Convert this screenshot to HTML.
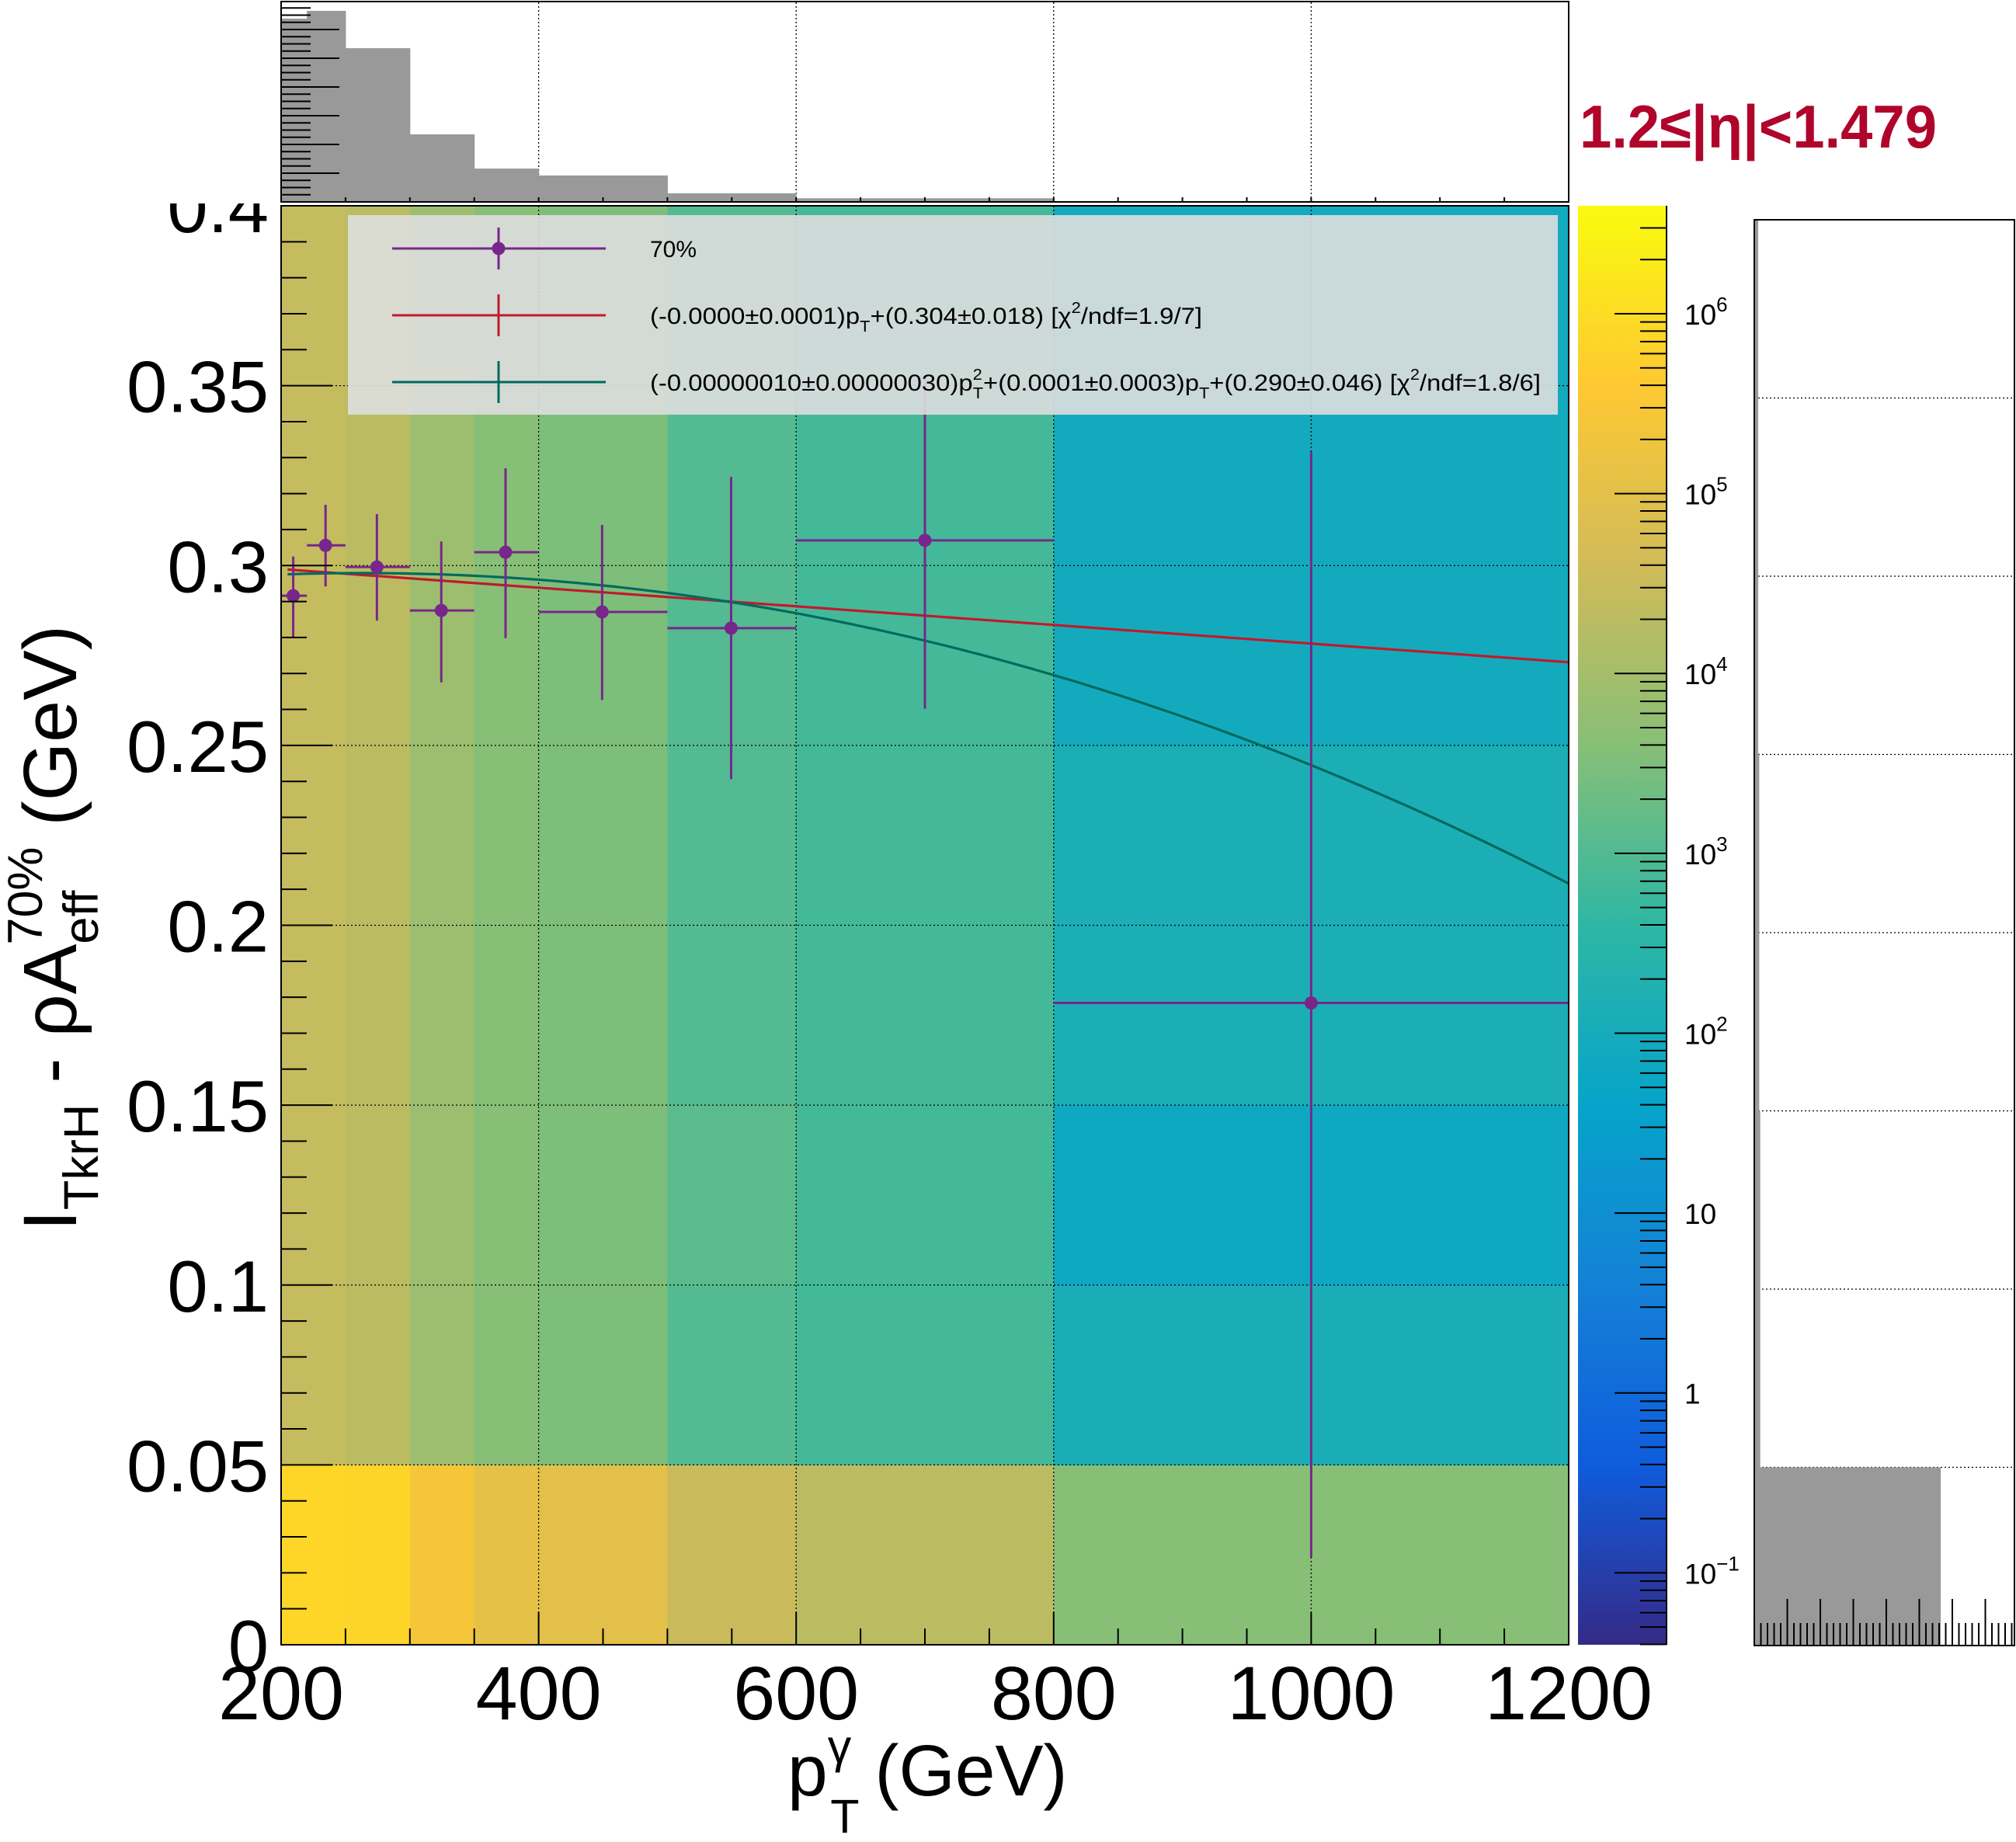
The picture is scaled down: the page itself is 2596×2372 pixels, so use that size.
<!DOCTYPE html>
<html><head><meta charset="utf-8">
<style>
html,body{margin:0;padding:0;background:#fff;}
svg{display:block;font-family:"Liberation Sans",Arial,sans-serif;}
</style></head>
<body>
<svg id="chart" width="2596" height="2372" viewBox="0 0 2596 2372" xmlns="http://www.w3.org/2000/svg">
<defs>
<linearGradient id="birdGrad" x1="0" y1="1" x2="0" y2="0">
<stop offset="0" stop-color="rgb(53,42,135)"/>
<stop offset="0.125" stop-color="rgb(15,92,221)"/>
<stop offset="0.25" stop-color="rgb(20,129,214)"/>
<stop offset="0.375" stop-color="rgb(6,164,202)"/>
<stop offset="0.5" stop-color="rgb(46,183,164)"/>
<stop offset="0.625" stop-color="rgb(135,191,119)"/>
<stop offset="0.75" stop-color="rgb(209,187,89)"/>
<stop offset="0.875" stop-color="rgb(254,200,50)"/>
<stop offset="1" stop-color="rgb(249,251,14)"/>
</linearGradient>
<clipPath id="mainClip"><rect x="0" y="262" width="2596" height="2110"/></clipPath>
</defs>
<g id="layer"></g>
</svg>
<script>
// ---- data ----
const xBinEdges = [200,250,300,350,400,500,600,800,1200];
const yBinEdges = [0,0.05,0.1,0.15,0.2,0.25,0.3,0.35,0.4];
// log10(counts) per column (x bin), rows from y=0 upward
const cellLog0 = [5.87,4.42,4.42,4.42,4.42,4.42,4.42,4.42];
const cellLog1 = [5.85,4.3,4.3,4.3,4.3,4.3,4.3,4.3];
const cellLog2 = [5.4,3.9,3.9,3.9,3.9,3.9,3.9,3.9];
const cellLog3 = [5.05,3.6,3.6,3.6,3.6,3.6,3.6,3.6];
const cellLog4 = [5.0,3.5,3.5,3.5,3.5,3.5,3.5,3.5];
const cellLog5 = [4.5,3.03,3.12,3.03,3.03,3.03,3.03,3.03];
const cellLog6 = [4.3,2.85,2.85,2.85,2.85,2.85,2.85,2.85];
const cellLog7 = [3.6,2.1,1.8,2.15,2.15,1.95,1.95,1.95];
const cellLogs = [cellLog0,cellLog1,cellLog2,cellLog3,cellLog4,cellLog5,cellLog6,cellLog7];

const ptX = [209.4,234.5,274.4,324.4,374.3,449.3,549.5,700,1000];
const ptY = [0.2916,0.3056,0.2996,0.2875,0.3037,0.2871,0.2826,0.307,0.1784];
const ptYLo = [0.2802,0.2942,0.2847,0.2675,0.2798,0.2626,0.2406,0.2602,0.0243];
const ptYHi = [0.3025,0.3169,0.3143,0.3067,0.327,0.3113,0.3246,0.352,0.3317];
const ptXLo = [200,220,250,300,350,400,500,600,800];
const ptXHi = [220,250,300,350,400,500,600,800,1200];

const linP = [0.3042,-0.0000259];
const quadP = [0.2911,0.0000517,-0.0000000983];
const fitRange = [205,1200];

const topHistEdges = [200,220,250,300,350,400,500,600,800,1200];
const topHistVals = [6.38,6.65,5.35,2.35,1.16,0.92,0.30,0.127,0.03];
const sideHistVals = [5.65,0.18,0.18,0.15,0.15,0.12,0.12,0.12];

const yTickLabels = ["0","0.05","0.1","0.15","0.2","0.25","0.3","0.35","0.4"];
const xTickLabels = ["200","400","600","800","1000","1200"];
const paletteDecades = [-1,0,1,2,3,4,5,6];
const zRange = [-1.4,6.6];

// ---- geometry ----
const NS="http://www.w3.org/2000/svg";
const layer=document.getElementById('layer');
const PL=362, PR=2020, PT=265, PB=2118;
const X0=200, X1=1200, Y0=0, Y1=0.4;
function sx(v){return PL+(v-X0)/(X1-X0)*(PR-PL);}
function sy(v){return PB-(v-Y0)/(Y1-Y0)*(PB-PT);}
function mk(tag,attrs,parent){const e=document.createElementNS(NS,tag);for(const k in attrs)e.setAttribute(k,attrs[k]);(parent||layer).appendChild(e);return e;}
const birdStops=[0,.125,.25,.375,.5,.625,.75,.875,1];
const birdR=[0.2082,0.0592,0.0780,0.0232,0.1802,0.5301,0.8186,0.9956,0.9764];
const birdG=[0.1664,0.3599,0.5041,0.6419,0.7178,0.7492,0.7328,0.7862,0.9832];
const birdB=[0.5293,0.8684,0.8385,0.7914,0.6425,0.4662,0.3499,0.1968,0.0539];
function bird(t){t=Math.max(0,Math.min(1,t));let i=0;while(i<7&&t>birdStops[i+1])i++;const f=(t-birdStops[i])/(birdStops[i+1]-birdStops[i]);
const c=a=>Math.round(255*(a[i]+(a[i+1]-a[i])*f));return `rgb(${c(birdR)},${c(birdG)},${c(birdB)})`;}

// ---- heatmap ----
const gHeat=mk('g',{});


for(let c=0;c<cellLogs.length;c++){for(let r=0;r<cellLogs[c].length;r++){
 const x=sx(xBinEdges[c]),x2=sx(xBinEdges[c+1]),y=sy(yBinEdges[r+1]),y2=sy(yBinEdges[r]);
 const rc=mk('rect',{x:x,y:y,width:x2-x+0.5,height:y2-y+0.5,fill:bird((cellLogs[c][r]-zRange[0])/(zRange[1]-zRange[0]))},gHeat);
 
 
}}
// grid
const gGrid=mk('g',{stroke:'#000','stroke-width':1.3,'stroke-dasharray':'2,3'});


[400,600,800,1000].forEach(v=>mk('line',{x1:sx(v),x2:sx(v),y1:PT,y2:PB},gGrid));
for(let i=1;i<8;i++){const v=i*0.05;mk('line',{x1:PL,x2:PR,y1:sy(v),y2:sy(v)},gGrid);}

// fits
function curvePath(f){let d='';for(let i=0;i<=200;i++){const x=fitRange[0]+(fitRange[1]-fitRange[0])*i/200;d+=(i?'L':'M')+sx(x).toFixed(1)+','+sy(f(x)).toFixed(1);}return d;}
const pl=mk('path',{d:curvePath(x=>linP[0]+linP[1]*x),fill:'none',stroke:'#be1b2e','stroke-width':3.2});


const pq=mk('path',{d:curvePath(x=>quadP[0]+quadP[1]*x+quadP[2]*x*x),fill:'none',stroke:'#006a5e','stroke-width':3.2});



// points
const purple='#77278b';
const gPts=mk('g',{stroke:purple,'stroke-width':3});


for(let i=0;i<ptX.length;i++){
 const g=mk('g',{},gPts);
 
 
 mk('line',{x1:sx(ptX[i]),x2:sx(ptX[i]),y1:sy(ptYLo[i]),y2:sy(ptYHi[i])},g);
 mk('line',{x1:sx(ptXLo[i]),x2:sx(ptXHi[i]),y1:sy(ptY[i]),y2:sy(ptY[i])},g);
 mk('circle',{cx:sx(ptX[i]),cy:sy(ptY[i]),r:8.5,fill:purple,stroke:'none'},g);
}

// legend
const gLeg=mk('g',{});


mk('rect',{x:448,y:277,width:1558,height:257,fill:'rgba(222,222,222,0.9)'},gLeg);
const legRows=[320,406,492], legCols=[purple,'#be1b2e','#006a5e'];
for(let i=0;i<3;i++){
 const e=mk('g',{stroke:legCols[i],'stroke-width':3},gLeg);
 
 
 mk('line',{x1:505,x2:780,y1:legRows[i],y2:legRows[i]},e);
 mk('line',{x1:642,x2:642,y1:legRows[i]-27,y2:legRows[i]+27},e);
 if(i==0)mk('circle',{cx:642,cy:legRows[i],r:8.5,fill:purple,stroke:'none'},e);
}
const lt1=mk('text',{x:837,y:331,'font-size':30},gLeg);lt1.textContent='70%';


const lt2=mk('text',{x:837,y:417,'font-size':30,textLength:711,lengthAdjust:'spacingAndGlyphs'},gLeg);
lt2.innerHTML='(-0.0000±0.0001)p<tspan font-size="20" dy="10">T</tspan><tspan dy="-10">+(0.304±0.018) [χ</tspan><tspan font-size="20" dy="-14">2</tspan><tspan dy="14">/ndf=1.9/7]</tspan>';


const lt3=mk('text',{x:837,y:503,'font-size':30,textLength:1147,lengthAdjust:'spacingAndGlyphs'},gLeg);
lt3.innerHTML='(-0.00000010±0.00000030)p<tspan font-size="20" dy="-14">2</tspan><tspan font-size="20" dx="-11" dy="24">T</tspan><tspan dy="-10">+(0.0001±0.0003)p</tspan><tspan font-size="20" dy="10">T</tspan><tspan dy="-10">+(0.290±0.046) [χ</tspan><tspan font-size="20" dy="-14">2</tspan><tspan dy="14">/ndf=1.8/6]</tspan>';



// frame + ticks
const gAx=mk('g',{stroke:'#000','stroke-width':2,fill:'none'});


mk('rect',{x:PL,y:PT,width:PR-PL,height:PB-PT},gAx);
for(let i=0;i<=40;i++){const v=i*0.01;const len=(i%5==0)?66:33;mk('line',{x1:PL,x2:PL+len,y1:sy(v),y2:sy(v)},gAx);}
for(let v=200;v<=1200;v+=50){const len=(v%200==0)?42:21;mk('line',{x1:sx(v),x2:sx(v),y1:PB,y2:PB-len},gAx);}
// y labels
const gYL=mk('g',{'font-size':94,'text-anchor':'end','clip-path':'url(#mainClip)'});


yTickLabels.forEach((s,i)=>{const t=mk('text',{x:346,y:sy(i*0.05)+34},gYL);t.textContent=s;
 
 });
const gXL=mk('g',{'font-size':97,'text-anchor':'middle'});


xTickLabels.forEach((s,i)=>{const t=mk('text',{x:sx(200+200*i),y:2214},gXL);t.textContent=s;
 
 });
// axis titles
const xt=mk('text',{x:1014,y:2312,'font-size':93});
xt.innerHTML='p<tspan font-size="61" dy="-42">γ</tspan><tspan font-size="61" dx="-27" dy="90">T</tspan><tspan dy="-48" dx="20">(GeV)</tspan>';


const yt=mk('text',{transform:'translate(98,1195) rotate(-90)','font-size':97,'text-anchor':'middle'});
yt.innerHTML='I<tspan font-size="63" dy="28">TkrH</tspan><tspan dy="-28"> - ρA</tspan><tspan font-size="63" dy="28">eff</tspan><tspan font-size="63" dx="-70" dy="-72">70%</tspan><tspan dy="44"> (GeV)</tspan>';



// top histogram
const gTop=mk('g',{});


mk('rect',{x:PL,y:2,width:PR-PL,height:258,fill:'#fff',stroke:'#000','stroke-width':2},gTop);
const TB=260, TU=37;
[400,600,800,1000].forEach(v=>mk('line',{x1:sx(v),x2:sx(v),y1:3,y2:TB,stroke:'#000','stroke-width':1.3,'stroke-dasharray':'2,3'},gTop));
for(let i=0;i<topHistVals.length;i++){const x=sx(topHistEdges[i]),x2=sx(topHistEdges[i+1]),h=topHistVals[i]*TU;
 const b=mk('rect',{x:x,y:TB-h,width:x2-x+0.5,height:h,fill:'#999'},gTop);
 
 }
for(let k=1;k<=27;k++){const y=TB-k*TU/4;if(y<4)break;mk('line',{x1:PL,x2:PL+((k%4==0)?75:38),y1:y,y2:y,stroke:'#000','stroke-width':2},gTop);}
for(let v=250;v<1200;v+=50){mk('line',{x1:sx(v),x2:sx(v),y1:TB,y2:TB-6,stroke:'#000','stroke-width':2},gTop);}
mk('rect',{x:PL,y:2,width:PR-PL,height:258,fill:'none',stroke:'#000','stroke-width':2},gTop);

// palette
const gPal=mk('g',{});


mk('rect',{x:2032,y:PT,width:114,height:PB-PT,fill:'url(#birdGrad)'},gPal);
mk('line',{x1:2146,x2:2146,y1:PT,y2:PB,stroke:'#000','stroke-width':2},gPal);
function zy(l){return PB-(l-zRange[0])/(zRange[1]-zRange[0])*(PB-PT);}
for(let d=-2;d<=6;d++){for(let k=1;k<10;k++){const l=d+Math.log10(k);if(l<zRange[0]||l>zRange[1])continue;
 mk('line',{x1:2146-(k==1?67:34),x2:2146,y1:zy(l),y2:zy(l),stroke:'#000','stroke-width':2},gPal);}}
paletteDecades.forEach(d=>{const t=mk('text',{x:2169,y:zy(d)+14,'font-size':37},gPal);
 if(d==0)t.textContent='1';else if(d==1)t.textContent='10';
 else t.innerHTML='10<tspan font-size="26" dy="-17">'+(d<0?'−':'')+Math.abs(d)+'</tspan>';
 
 });

// side histogram
const gSide=mk('g',{});


const SL=2259,SR=2595,ST=283,SB=2119,SU=42.5;
function ry(v){return SB-v/0.4*(SB-ST);}
mk('rect',{x:SL,y:ST,width:SR-SL,height:SB-ST,fill:'#fff'},gSide);
for(let i=1;i<8;i++)mk('line',{x1:SL,x2:SR,y1:ry(i*0.05),y2:ry(i*0.05),stroke:'#000','stroke-width':1.3,'stroke-dasharray':'2,3'},gSide);
for(let i=0;i<sideHistVals.length;i++){const y=ry(yBinEdges[i+1]),y2=ry(yBinEdges[i]);
 const b=mk('rect',{x:SL,y:y,width:sideHistVals[i]*SU,height:y2-y+0.5,fill:'#999'},gSide);
 
 }
for(let k=1;SL+k*SU/5<SR;k++){const x=SL+k*SU/5;mk('line',{x1:x,x2:x,y1:SB,y2:SB-((k%5==0)?60:29),stroke:'#000','stroke-width':2},gSide);}
mk('rect',{x:SL,y:ST,width:SR-SL-1,height:SB-ST,fill:'none',stroke:'#000','stroke-width':2},gSide);

// title
const tt=mk('text',{x:2034,y:190,'font-size':78,'font-weight':'bold',fill:'#b0052b',textLength:460,lengthAdjust:'spacingAndGlyphs'});
tt.textContent='1.2≤|η|<1.479';


</script>
</body></html>
